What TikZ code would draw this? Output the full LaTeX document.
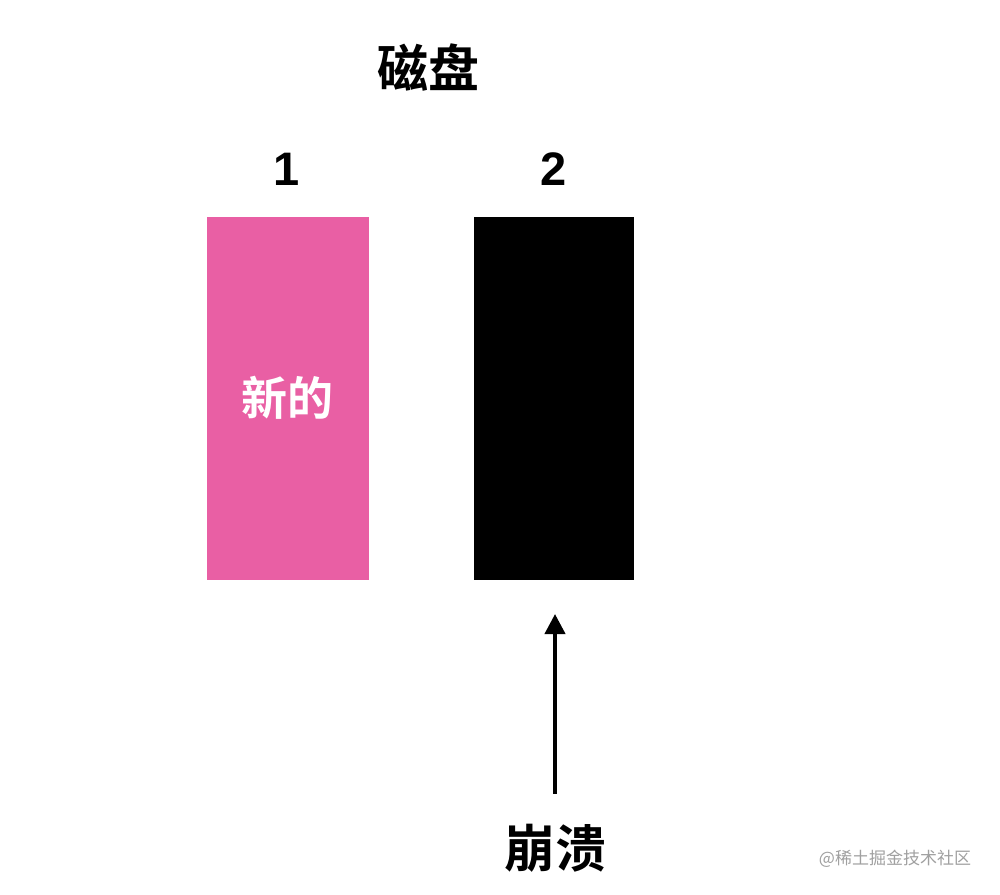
\documentclass[tikz,border=0pt]{standalone}
\usepackage{fontspec}
\newfontfamily\cjk{Noto Sans CJK SC}[BoldFont={* Bold}]
\newfontfamily\digits{Liberation Sans}
\usetikzlibrary{arrows.meta}
\definecolor{diskpink}{HTML}{E95FA4}
\definecolor{wmgray}{HTML}{A0A0A0}
\tikzset{
  block/.style={draw=none,inner sep=0pt,minimum width=#1,minimum height=363pt},
  bigcjk/.style={font=\cjk\bfseries\fontsize{51}{51}\selectfont,inner sep=0pt},
  num/.style={font=\digits\bfseries\fontsize{47}{47}\selectfont,inner sep=0pt},
  pointer/.style={line width=4pt,-{Triangle[length=20pt,width=20pt]}}
}
\begin{document}
\begin{tikzpicture}[x=1pt,y=-1pt]
\useasboundingbox (0,0) rectangle (1000,894);
\fill[white] (0,0) rectangle (1000,894);
\node[bigcjk] (title) at (428,68) {磁盘};
\node[block=162pt,fill=diskpink] (b1) at (288,398.5) {};
\node[block=160pt,fill=black] (b2) at (554,398.5) {};
\node[num] (n1) at (287,169) {1};
\node[num] (n2) at (554,169) {2};
\node[font=\cjk\bfseries\fontsize{46}{46}\selectfont,text=white,inner sep=0pt] (new) at (287,398) {新的};
\node[bigcjk] (crash) at (555,848) {崩溃};
\coordinate (tip) at (555,614);
\draw[pointer] (crash.north -| tip) ++(0,-30) coordinate (tail) (tail) -- (tip);
\node[font=\cjk\fontsize{17}{17}\selectfont,text=wmgray,inner sep=0pt] (wm) at (895,859) {@稀土掘金技术社区};
\end{tikzpicture}
\end{document}
